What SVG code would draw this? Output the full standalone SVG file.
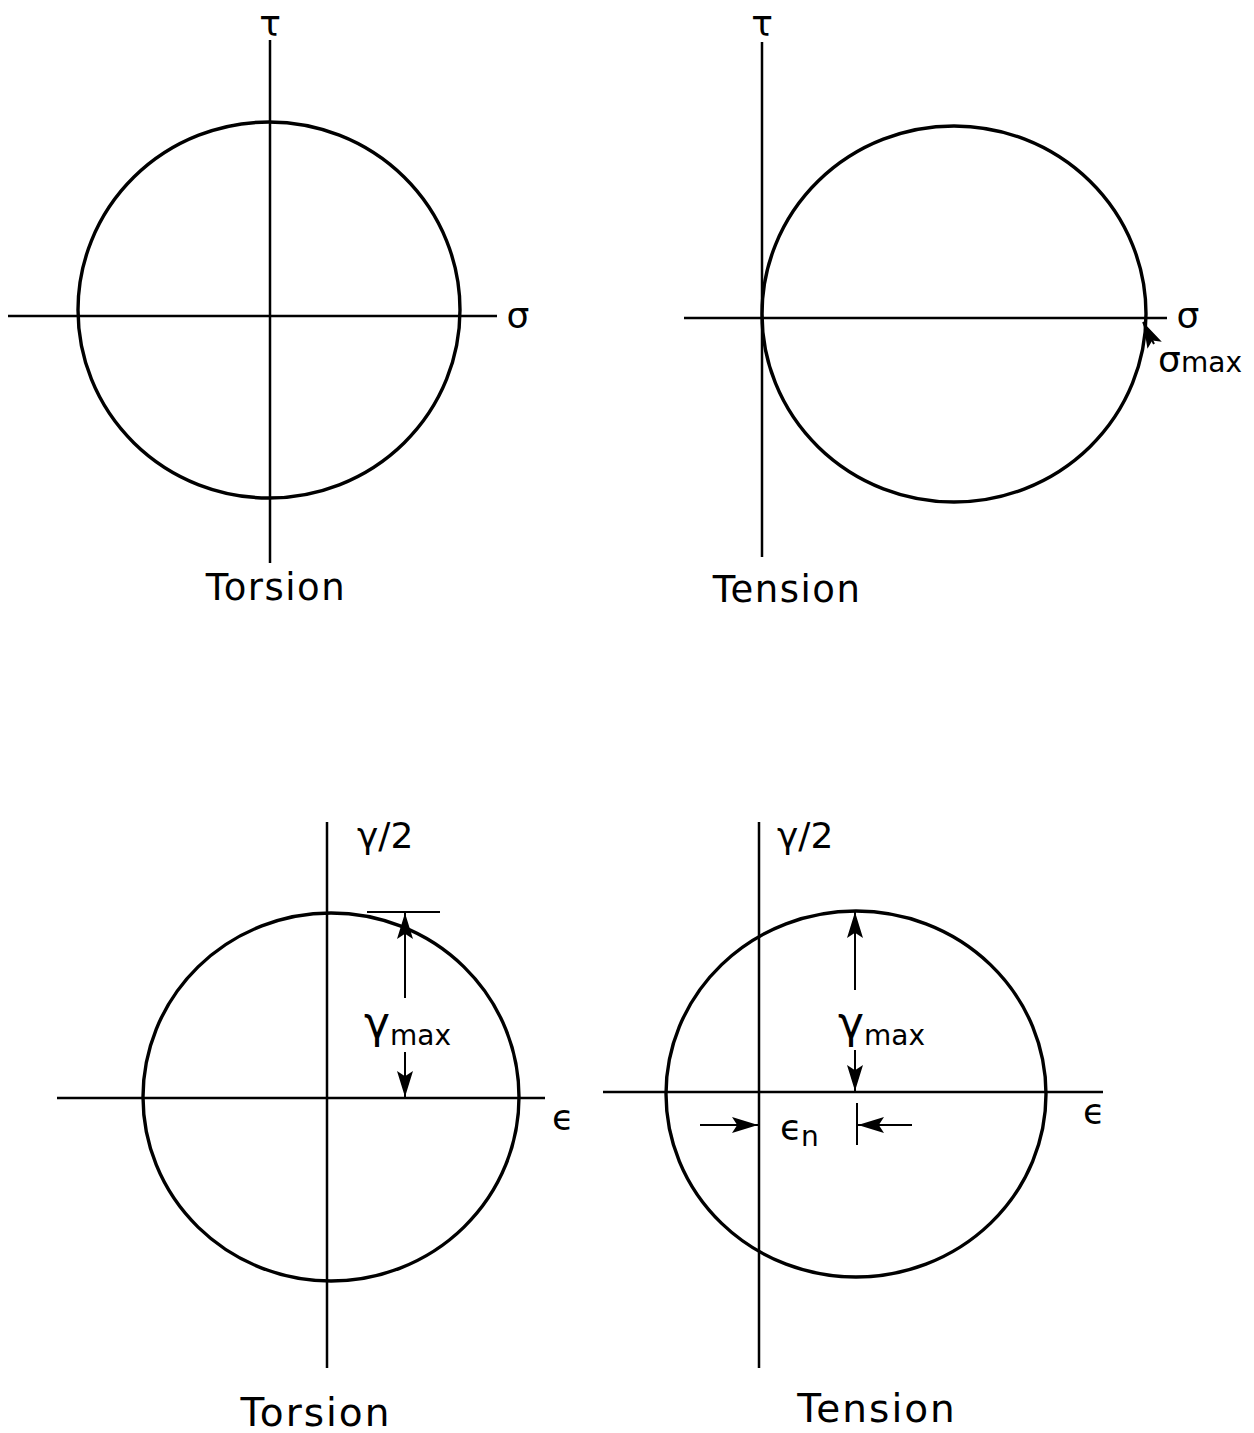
<svg xmlns="http://www.w3.org/2000/svg" width="1254" height="1433" viewBox="0 0 1254 1433">
<style>
.ax{stroke:#000;stroke-width:2.5;fill:none}
.c{stroke:#000;stroke-width:3.4;fill:none}
.dim{stroke:#000;stroke-width:2;fill:none}
text{font-family:"DejaVu Sans","Liberation Sans",sans-serif;fill:#000}
.t{font-size:37px;letter-spacing:1.5px}
.tb{font-size:39px;letter-spacing:2px}
.g{font-size:36px}
.gb{font-size:44px}
.s{font-size:28px}
</style>
<defs>
<marker id="ahb" viewBox="0 0 10 10" refX="10" refY="5" markerWidth="26" markerHeight="16" markerUnits="userSpaceOnUse" orient="auto" preserveAspectRatio="none"><path d="M0,0 L10,5 L0,10 L2,5 Z" fill="#000"/></marker>
</defs>
<rect width="1254" height="1433" fill="#fff"/>
<g id="torsion-stress">
<ellipse class="c" cx="269" cy="310" rx="191" ry="188"/>
<text class="g" x="270" y="36" text-anchor="middle" font-size="32">τ</text>
<text class="g" x="518" y="328" text-anchor="middle">σ</text>
<text class="t" x="276" y="600" text-anchor="middle">Torsion</text>
</g>
<g id="tension-stress">
<ellipse class="c" cx="954" cy="314" rx="192" ry="188"/>
<text class="g" x="762" y="36" text-anchor="middle" font-size="32">τ</text>
<text class="g" x="1188" y="328" text-anchor="middle">σ</text>
<text class="g" x="1158" y="372">σ</text><text class="s" x="1181" y="372">max</text>
<text class="t" x="787" y="602" text-anchor="middle">Tension</text>
</g>
<g id="torsion-strain">
<ellipse class="c" cx="331" cy="1097" rx="188" ry="184"/>
<text class="g" x="357" y="848">γ/2</text>
<text class="gb" x="364" y="1038">γ</text><text class="s" x="390" y="1045">max</text>
<text class="g" x="563" y="1130" text-anchor="middle">ϵ</text>
<text class="tb" x="316" y="1426" text-anchor="middle">Torsion</text>
</g>
<g id="tension-strain">
<ellipse class="c" cx="856" cy="1094" rx="190" ry="183"/>
<text class="g" x="777" y="848">γ/2</text>
<text class="gb" x="838" y="1038">γ</text><text class="s" x="864" y="1045">max</text>
<text class="g" x="780" y="1140">ϵ</text><text class="s" x="801" y="1146">n</text>
<text class="g" x="1094" y="1124" text-anchor="middle">ϵ</text>
<text class="tb" x="877" y="1422" text-anchor="middle">Tension</text>
</g>
<g id="connectors">
<line class="ax" x1="270" y1="40" x2="270" y2="563"/>
<line class="ax" x1="8" y1="316" x2="497" y2="316"/>
<line class="ax" x1="762" y1="42" x2="762" y2="557"/>
<line class="ax" x1="684" y1="318" x2="1167" y2="318"/>
<line class="dim" x1="1154" y1="344" x2="1143" y2="322" marker-end="url(#ahb)"/>
<line class="ax" x1="327" y1="822" x2="327" y2="1368"/>
<line class="ax" x1="57" y1="1098" x2="545" y2="1098"/>
<line class="dim" x1="367" y1="912" x2="440" y2="912"/>
<line class="dim" x1="405" y1="998" x2="405" y2="913" marker-end="url(#ahb)"/>
<line class="dim" x1="405" y1="1052" x2="405" y2="1097" marker-end="url(#ahb)"/>
<line class="ax" x1="759" y1="822" x2="759" y2="1368"/>
<line class="ax" x1="603" y1="1092" x2="1103" y2="1092"/>
<line class="dim" x1="855" y1="990" x2="855" y2="912" marker-end="url(#ahb)"/>
<line class="dim" x1="855" y1="1050" x2="855" y2="1091" marker-end="url(#ahb)"/>
<line class="dim" x1="857" y1="1103" x2="857" y2="1145"/>
<line class="dim" x1="700" y1="1125" x2="758" y2="1125" marker-end="url(#ahb)"/>
<line class="dim" x1="912" y1="1125" x2="858" y2="1125" marker-end="url(#ahb)"/>
</g>
</svg>
